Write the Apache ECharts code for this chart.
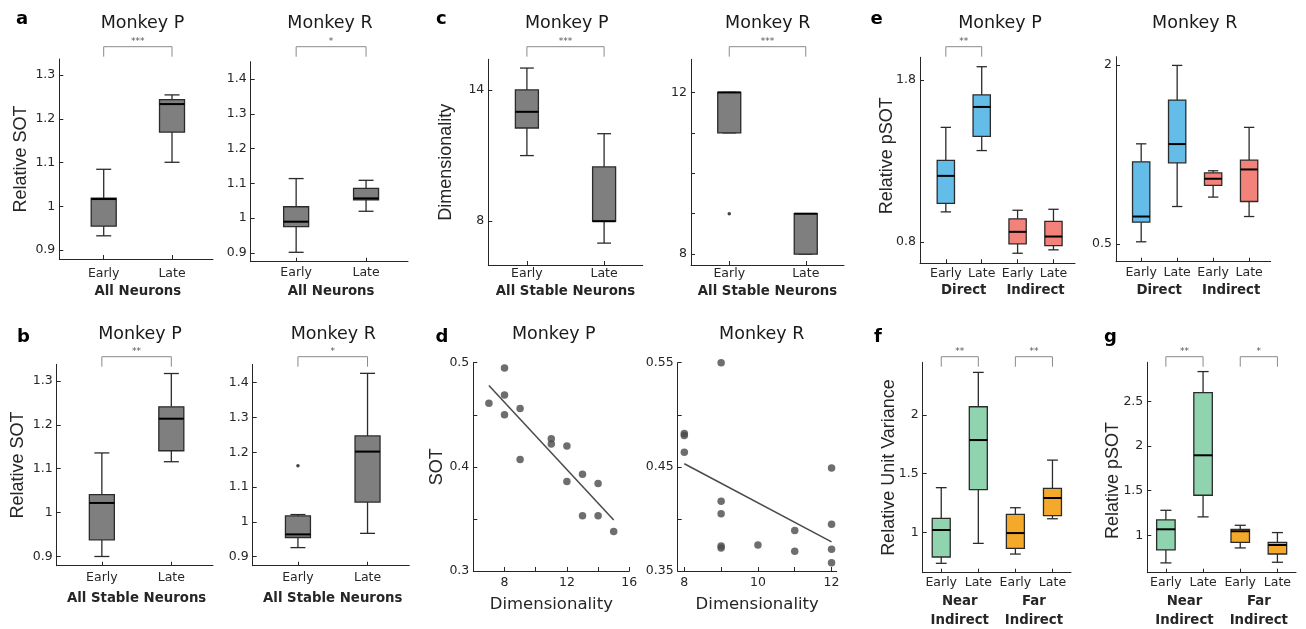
<!DOCTYPE html>
<html>
<head>
<meta charset="utf-8">
<script src="https://cdn.jsdelivr.net/npm/echarts@6/dist/echarts.min.js"></script>
<style>html,body{margin:0;padding:0;background:#fff}#chart{width:1306px;height:629px}</style>
</head>
<body>
<div id="chart"></div>
<script>
// ================= DATA =================
const timeCats2 = ['Early', 'Late'];
const timeCats4 = ['Early', 'Late', 'Early', 'Late'];
const groupAll = ['All Neurons'];
const groupStable = ['All Stable Neurons'];
const groupDirect = ['Direct', 'Indirect'];
const groupNearFar = ['Near\nIndirect', 'Far\nIndirect'];

// box statistics per box: [min, q1, median, q3, max]
const aP_box = [[0.933, 0.955, 1.017, 1.019, 1.085], [1.101, 1.170, 1.234, 1.244, 1.255]];
const aR_box = [[0.902, 0.976, 0.990, 1.033, 1.114], [1.020, 1.053, 1.057, 1.086, 1.109]];
const bP_box = [[0.900, 0.938, 1.022, 1.041, 1.136], [1.116, 1.141, 1.214, 1.241, 1.317]];
const bR_box = [[0.926, 0.955, 0.964, 1.017, 1.021], [0.967, 1.057, 1.202, 1.247, 1.427]];
const bR_outliers = [[1, 1.161]];
const cP_box = [[11, 12.26, 13, 14, 15], [7, 8, 8, 10.48, 12]];
const cR_box = [[11, 11, 12, 12, 12], [8, 8, 9, 9, 9]];
const cR_outliers = [[1, 9]];
const eP_box = [[0.987, 1.040, 1.209, 1.305, 1.508], [1.365, 1.453, 1.634, 1.708, 1.882],
                [0.732, 0.790, 0.864, 0.944, 0.997], [0.753, 0.779, 0.835, 0.929, 1.003]];
const eR_box = [[0.517, 0.682, 0.729, 1.188, 1.339], [0.813, 1.180, 1.337, 1.706, 1.997],
                [0.892, 0.990, 1.046, 1.096, 1.113], [0.729, 0.855, 1.124, 1.202, 1.477]];
const f_box = [[0.736, 0.790, 1.020, 1.119, 1.381], [0.906, 1.364, 1.787, 2.071, 2.364],
               [0.815, 0.864, 0.994, 1.153, 1.210], [1.116, 1.142, 1.293, 1.375, 1.616]];
const g_box = [[0.690, 0.835, 1.067, 1.172, 1.280], [1.206, 1.449, 1.897, 2.600, 2.836],
               [0.858, 0.921, 1.045, 1.067, 1.112], [0.697, 0.790, 0.891, 0.921, 1.030]];

// scatter (panel d)
const dP_dim = [7, 8, 8, 8, 9, 9, 11, 11, 12, 12, 13, 13, 14, 14, 15];
const dP_sot = [0.461, 0.495, 0.469, 0.450, 0.456, 0.407, 0.427, 0.422, 0.420, 0.386, 0.393, 0.353, 0.384, 0.353, 0.338];
const dP_fit = [[7, 0.478], [15, 0.349]];
const dR_dim = [9, 8, 8, 8, 9, 9, 9, 9, 10, 11, 11, 12, 12, 12, 12];
const dR_sot = [0.550, 0.482, 0.480, 0.464, 0.417, 0.405, 0.374, 0.372, 0.375, 0.389, 0.369, 0.449, 0.395, 0.371, 0.358];
const dR_fit = [[8, 0.453], [12, 0.378]];

// significance brackets
const pairs1 = [[1, 2]];
const pairs2 = [[1, 2], [3, 4]];
const aP_sig = ['***'];
const aR_sig = ['*'];
const bP_sig = ['**'];
const bR_sig = ['*'];
const cP_sig = ['***'];
const cR_sig = ['***'];
const eP_sig = ['**'];
const f_sig = ['**', '**'];
const g_sig = ['**', '*'];

// tick values
const ticksSOT_P = [0.9, 1, 1.1, 1.2, 1.3];
const ticksSOT_R = [0.9, 1, 1.1, 1.2, 1.3, 1.4];
const ticksDimP = [8, 14];
const ticksDimR = [8, 9, 10, 11, 12];
const labelsDimR = [8, 12];
const ticksDPx = [6, 8, 10, 12, 14, 16];
const labelsDPx = [8, 12, 16];
const ticksDPy = [0.3, 0.35, 0.4, 0.45, 0.5];
const labelsDPy = [0.3, 0.4, 0.5];
const ticksDRx = [8, 9, 10, 11, 12];
const labelsDRx = [8, 10, 12];
const ticksDRy = [0.35, 0.4, 0.45, 0.5, 0.55];
const labelsDRy = [0.35, 0.45, 0.55];
const ticksEP = [0.8, 1.8];
const ticksER = [0.5, 2];
const ticksF = [1, 1.5, 2];
const ticksG = [1, 1.5, 2, 2.5];
const catPos2 = [1, 2];
const catPos4 = [1, 2, 3, 4];
const grpPos1 = [1.5];
const grpPos2 = [1.5, 3.5];

// ================= STYLE =================
const FONT = '"DejaVu Sans", sans-serif';
const VFONT = '"Liberation Sans", Arial, sans-serif';
const AX = '#262626';
const TXT = '#262626';
const EDGE = '#2b2b2b';
const GRAY = '#7f7f7f';
const BLUE = '#63bde8';
const RED = '#f3837a';
const GREEN = '#8fd4ae';
const ORANGE = '#f4a92b';
const DOT = '#4a4a4a';

const panels = [
  {rect: [59.3, 59, 153.7, 200], x: [0.35, 2.6], y: [0.88, 1.337], yT: ticksSOT_P, yL: ticksSOT_P,
   cats: timeCats2, catPos: catPos2, grp: groupAll, grpPos: grpPos1, catM: 7, grpM: 23,
   box: aP_box, fill: [GRAY, GRAY], bw: 25, pairs: pairs1, sig: aP_sig, brTop: 12.3, brLeg: 2.3,
   yName: 'Relative SOT', yGap: 29.5},
  {rect: [250.7, 61.7, 157.3, 200], x: [0.35, 2.6], y: [0.875, 1.45], yT: ticksSOT_R, yL: ticksSOT_R,
   cats: timeCats2, catPos: catPos2, grp: groupAll, grpPos: grpPos1, catM: 4, grpM: 20.5,
   box: aR_box, fill: [GRAY, GRAY], bw: 25, pairs: pairs1, sig: aR_sig, brTop: 15, brLeg: 5},
  {rect: [56.7, 364.3, 156.3, 201.4], x: [0.35, 2.6], y: [0.879, 1.338], yT: ticksSOT_P, yL: ticksSOT_P,
   cats: timeCats2, catPos: catPos2, grp: groupStable, grpPos: grpPos1, catM: 4.5, grpM: 23,
   box: bP_box, fill: [GRAY, GRAY], bw: 25, pairs: pairs1, sig: bP_sig, brTop: 7.6, brLeg: -2.4,
   yName: 'Relative SOT', yGap: 30},
  {rect: [252.7, 364.3, 156.6, 201.4], x: [0.35, 2.6], y: [0.874, 1.453], yT: ticksSOT_R, yL: ticksSOT_R,
   cats: timeCats2, catPos: catPos2, grp: groupStable, grpPos: grpPos1, catM: 4.5, grpM: 23,
   box: bR_box, fill: [GRAY, GRAY], bw: 25, pairs: pairs1, sig: bR_sig, brTop: 7.6, brLeg: -2.4,
   outliers: bR_outliers},
  {rect: [488.3, 59.3, 154.4, 205.7], x: [0.5, 2.5], y: [6, 15.4], yT: ticksDimP, yL: ticksDimP,
   cats: timeCats2, catPos: catPos2, grp: groupStable, grpPos: grpPos1, catM: 1, grpM: 17.2,
   box: cP_box, fill: [GRAY, GRAY], bw: 23, pairs: pairs1, sig: cP_sig, brTop: 12.6, brLeg: 2.6,
   yName: 'Dimensionality', yGap: 33.5},
  {rect: [691, 59.3, 153, 205.7], x: [0.5, 2.5], y: [7.73, 12.82], yT: ticksDimR, yL: labelsDimR,
   cats: timeCats2, catPos: catPos2, grp: groupStable, grpPos: grpPos1, catM: 1, grpM: 17.2,
   box: cR_box, fill: [GRAY, GRAY], bw: 23, pairs: pairs1, sig: cR_sig, brTop: 12.6, brLeg: 2.6,
   outliers: cR_outliers},
  {rect: [473.3, 362.7, 156, 208.3], x: [6, 16], y: [0.3, 0.5], yT: ticksDPy, yL: labelsDPy,
   xT: ticksDPx, xL: labelsDPx, catM: 4.2, scatterX: dP_dim, scatterY: dP_sot, fit: dP_fit,
   yName: 'SOT', yGap: 27.3, xName: 'Dimensionality'},
  {rect: [677.7, 362.7, 159, 208.3], x: [7.82, 12.14], y: [0.35, 0.55], yT: ticksDRy, yL: labelsDRy,
   xT: ticksDRx, xL: labelsDRx, catM: 4.2, scatterX: dR_dim, scatterY: dR_sot, fit: dR_fit,
   xName: 'Dimensionality'},
  {rect: [920, 57.3, 155, 206], x: [0.28, 4.6], y: [0.67, 1.94], yT: ticksEP, yL: ticksEP,
   cats: timeCats4, catPos: catPos4, grp: groupDirect, grpPos: grpPos2, catM: 2.5, grpM: 18,
   box: eP_box, fill: [BLUE, BLUE, RED, RED], bw: 17.3, pairs: pairs1, sig: eP_sig, brTop: 10.6, brLeg: 0.6,
   yName: 'Relative pSOT', yGap: 23.5, yPad: [0, 0, 0, 9]},
  {rect: [1116, 56.7, 154.7, 205], x: [0.3, 4.6], y: [0.35, 2.07], yT: ticksER, yL: ticksER,
   cats: timeCats4, catPos: catPos4, grp: groupDirect, grpPos: grpPos2, catM: 4, grpM: 19.6,
   box: eR_box, fill: [BLUE, BLUE, RED, RED], bw: 17.3},
  {rect: [922.7, 362.3, 148.3, 210.4], x: [0.5, 4.5], y: [0.656, 2.45], yT: ticksF, yL: ticksF,
   cats: timeCats4, catPos: catPos4, grp: groupNearFar, grpPos: grpPos2, catM: 2.5, grpM: 19.5,
   box: f_box, fill: [GREEN, GREEN, ORANGE, ORANGE], bw: 18, pairs: pairs2, sig: f_sig, brTop: 5.6, brLeg: -4.4,
   yName: 'Relative Unit Variance', yGap: 24.5},
  {rect: [1147.3, 362.3, 148.7, 210.4], x: [0.5, 4.5], y: [0.58, 2.94], yT: ticksG, yL: ticksG,
   cats: timeCats4, catPos: catPos4, grp: groupNearFar, grpPos: grpPos2, catM: 2.5, grpM: 19.5,
   box: g_box, fill: [GREEN, GREEN, ORANGE, ORANGE], bw: 18.5, pairs: pairs2, sig: g_sig, brTop: 5.6, brLeg: -4.4,
   yName: 'Relative pSOT', yGap: 25, yPad: [0, 26, 0, 0]}
];

const titles = [
  ['Monkey P', 142.5, 14.5], ['Monkey R', 330, 14.5], ['Monkey P', 140, 325], ['Monkey R', 333.3, 325],
  ['Monkey P', 566.7, 14.5], ['Monkey R', 767.7, 14.5], ['Monkey P', 553.8, 325], ['Monkey R', 761.7, 325],
  ['Monkey P', 1000, 14.5], ['Monkey R', 1194.7, 14.5]
];
const letters = [['a', 16, 10.8], ['b', 17, 328.8], ['c', 436, 10.8], ['d', 435.5, 328.8],
                 ['e', 870.5, 10.8], ['f', 874, 328.8], ['g', 1104, 328]];

// ================= RENDERERS =================
function fmtNum(v) { return String(parseFloat(Number(v).toFixed(4))); }

function makeBoxRenderer(bw, fills) {
  return function (params, api) {
    const x = api.value(0);
    const pts = [1, 2, 3, 4, 5].map(function (k) { return api.coord([x, api.value(k)]); });
    const cx = pts[0][0], hw = bw / 2, cap = bw * 0.3;
    const yMin = pts[0][1], yQ1 = pts[1][1], yMed = pts[2][1], yQ3 = pts[3][1], yMax = pts[4][1];
    const ls = {stroke: EDGE, lineWidth: 1.3};
    return {type: 'group', children: [
      {type: 'line', shape: {x1: cx, y1: yQ3, x2: cx, y2: yMax}, style: ls},
      {type: 'line', shape: {x1: cx, y1: yQ1, x2: cx, y2: yMin}, style: ls},
      {type: 'line', shape: {x1: cx - cap, y1: yMax, x2: cx + cap, y2: yMax}, style: ls},
      {type: 'line', shape: {x1: cx - cap, y1: yMin, x2: cx + cap, y2: yMin}, style: ls},
      {type: 'rect', shape: {x: cx - hw, y: yQ3, width: bw, height: Math.max(yQ1 - yQ3, 0.5)},
       style: {fill: fills[params.dataIndex], stroke: EDGE, lineWidth: 1.3}},
      {type: 'line', shape: {x1: cx - hw, y1: yMed, x2: cx + hw, y2: yMed}, style: {stroke: '#000', lineWidth: 2}}
    ]};
  };
}

function makeBracketRenderer(topOff, legOff, labels, yRef) {
  return function (params, api) {
    const gy = params.coordSys.y;
    const x1 = api.coord([api.value(0), yRef])[0];
    const x2 = api.coord([api.value(1), yRef])[0];
    const yt = gy - topOff, yl = gy - legOff;
    return {type: 'group', children: [
      {type: 'polyline', shape: {points: [[x1, yl], [x1, yt], [x2, yt], [x2, yl]]},
       style: {stroke: '#8a8a8a', lineWidth: 1, fill: null}},
      {type: 'text', style: {text: labels[params.dataIndex], x: (x1 + x2) / 2, y: yt - 5.5,
       align: 'center', verticalAlign: 'middle', font: '9px "DejaVu Sans"', fill: '#555'}}
    ]};
  };
}

// ================= OPTION =================
const option = {animation: false, backgroundColor: '#ffffff', title: [], grid: [], xAxis: [], yAxis: [], series: []};

titles.forEach(function (t) {
  option.title.push({text: t[0], left: t[1], top: t[2], textAlign: 'center', padding: 0,
    textStyle: {fontFamily: FONT, fontSize: 17.5, fontWeight: 'normal', color: '#1a1a1a'}});
});
letters.forEach(function (t) {
  option.title.push({text: t[0], left: t[1], top: t[2], textAlign: 'left', padding: 0,
    textStyle: {fontFamily: FONT, fontSize: 18, fontWeight: 'bold', color: '#000'}});
});

panels.forEach(function (p, i) {
  option.grid.push({left: p.rect[0], top: p.rect[1], width: p.rect[2], height: p.rect[3],
    containLabel: false, outerBoundsMode: 'none'});
  const isBox = !!p.box;
  const xi = option.xAxis.length;
  const xTicks = isBox ? p.catPos : p.xT;
  const xLabels = isBox ? p.catPos : p.xL;
  const xAx = {
    type: 'value', gridIndex: i, min: p.x[0], max: p.x[1], position: 'bottom',
    axisLine: {show: true, onZero: false, lineStyle: {color: AX, width: 1}},
    axisTick: {show: true, inside: true, length: 4, customValues: xTicks, lineStyle: {color: AX, width: 1}},
    axisLabel: {show: true, customValues: xLabels, margin: p.catM, fontFamily: FONT, fontSize: 12.5,
      lineHeight: 15, color: TXT,
      formatter: isBox ? (function (cats, pos) {
        return function (v) {
          for (let k = 0; k < pos.length; k++) { if (Math.abs(pos[k] - v) < 1e-6) return cats[k]; }
          return '';
        };
      })(p.cats, p.catPos) : fmtNum},
    splitLine: {show: false}
  };
  if (p.xName) {
    xAx.name = p.xName; xAx.nameLocation = 'middle'; xAx.nameGap = 24; xAx.nameMoveOverlap = false;
    xAx.nameTextStyle = {fontFamily: FONT, fontSize: 16.5, color: TXT, lineHeight: 20};
  }
  option.xAxis.push(xAx);
  if (isBox) {
    option.xAxis.push({
      type: 'value', gridIndex: i, min: p.x[0], max: p.x[1], position: 'bottom',
      axisLine: {show: false}, axisTick: {show: false}, splitLine: {show: false},
      axisLabel: {show: true, customValues: p.grpPos, margin: p.grpM, fontFamily: FONT, fontSize: 13.3,
        fontWeight: 'bold', lineHeight: 19, color: TXT, align: 'center',
        formatter: (function (grp, pos) {
          return function (v) {
            for (let k = 0; k < pos.length; k++) { if (Math.abs(pos[k] - v) < 1e-6) return grp[k]; }
            return '';
          };
        })(p.grp, p.grpPos)}
    });
  }
  const yi = option.yAxis.length;
  const yAx = {
    type: 'value', gridIndex: i, min: p.y[0], max: p.y[1], position: 'left',
    axisLine: {show: true, onZero: false, lineStyle: {color: AX, width: 1}},
    axisTick: {show: true, inside: true, length: 4, customValues: p.yT, lineStyle: {color: AX, width: 1}},
    axisLabel: {show: true, customValues: p.yL, margin: 4, fontFamily: FONT, fontSize: 12.5, color: TXT, formatter: fmtNum},
    splitLine: {show: false}
  };
  if (p.yName) {
    yAx.name = p.yName; yAx.nameLocation = 'middle'; yAx.nameGap = p.yGap; yAx.nameRotate = 90;
    yAx.nameMoveOverlap = false;
    yAx.nameTextStyle = {fontFamily: VFONT, fontSize: 18, lineHeight: 18, color: TXT, padding: p.yPad || 0};
  }
  option.yAxis.push(yAx);

  if (isBox) {
    option.series.push({
      type: 'custom', xAxisIndex: xi, yAxisIndex: yi, clip: false, z: 3,
      data: p.box.map(function (b, k) { return [p.catPos[k]].concat(b); }),
      encode: {x: 0, y: [1, 2, 3, 4, 5]},
      renderItem: makeBoxRenderer(p.bw, p.fill)
    });
    if (p.pairs) {
      option.series.push({
        type: 'custom', xAxisIndex: xi, yAxisIndex: yi, clip: false, silent: true, z: 3,
        data: p.pairs, encode: {x: [0, 1]},
        renderItem: makeBracketRenderer(p.brTop, p.brLeg, p.sig, p.y[0])
      });
    }
    if (p.outliers) {
      option.series.push({
        type: 'scatter', xAxisIndex: xi, yAxisIndex: yi, data: p.outliers, symbolSize: 3.5,
        itemStyle: {color: '#111'}, z: 4
      });
    }
  } else {
    option.series.push({
      type: 'scatter', xAxisIndex: xi, yAxisIndex: yi, symbolSize: 7.5, itemStyle: {color: DOT},
      data: p.scatterX.map(function (d, k) { return [d, p.scatterY[k]]; }), z: 3
    });
    option.series.push({
      type: 'line', xAxisIndex: xi, yAxisIndex: yi, data: p.fit, symbol: 'none', showSymbol: false,
      lineStyle: {color: DOT, width: 1.5}, z: 4
    });
  }
});

const chart = echarts.init(document.getElementById('chart'), null, {renderer: 'canvas'});
chart.setOption(option);
</script>
</body>
</html>
